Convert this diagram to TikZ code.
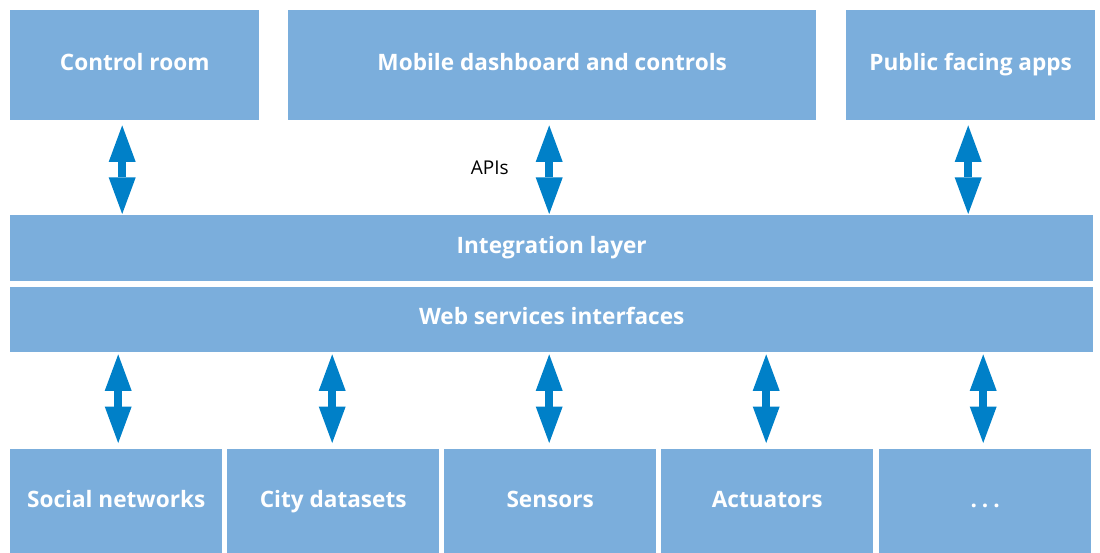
\documentclass[tikz,border=0pt]{standalone}
\usepackage{fontspec}
\setmainfont{Open Sans}
\usetikzlibrary{arrows.meta}
\definecolor{boxblue}{HTML}{7BAEDC}
\definecolor{arrowblue}{HTML}{0080C8}
\begin{document}
\begin{tikzpicture}[x=1pt,y=-1pt,
  blk/.style={fill=boxblue, draw=none, inner sep=0pt, anchor=north west,
    text=white, font=\fontsize{22.6}{27}\selectfont\bfseries, text depth=0pt},
  topblk/.style={blk, minimum height=110pt, text height=10pt},
  layer/.style={blk, minimum width=1083pt, text height=10.5pt},
  srcblk/.style={blk, minimum width=212pt, minimum height=104pt, text height=12pt},
  tipshape/.tip={Triangle[width=27pt,length=36.5pt,line width=0pt]},
  dbl/.style={draw=arrowblue, line width=8.5pt, tipshape-tipshape}
]
\useasboundingbox (0,0) rectangle (1100,553);

% client applications
\node[topblk, minimum width=249pt] (ctrl) at (10,10) {Control room};
\node[topblk, minimum width=528pt] (mobile) at (288,10) {Mobile dashboard and controls};
\node[topblk, minimum width=249pt] (public) at (846,10) {Public facing apps};

% middle layers
\node[layer, minimum height=66pt] (integ) at (10,215) {Integration layer};
\node[layer, minimum height=65pt] (web) at (10,287) {Web services interfaces};

% data sources
\node[srcblk] (social) at (10,449) {Social networks};
\node[srcblk] (city) at (227,449) {City datasets};
\node[srcblk] (sens) at (444,449) {Sensors};
\node[srcblk] (act) at (661,449) {Actuators};
\node[srcblk] (more) at (879,449) {.\hspace{5pt}.\hspace{5pt}.};

\node[anchor=base, inner sep=0pt, font=\fontsize{19}{23}\selectfont] (apis) at (489.7,175) {APIs};

% API links
\foreach \n/\dx in {ctrl/-12.5, mobile/-3, public/-2.5}
  \draw[dbl, shorten <=5pt, shorten >=1pt]
    ([xshift=\dx pt]\n.south) -- ([xshift=\dx pt]\n.south |- integ.north);

% data source links
\foreach \n/\dx in {social/2, city/-1, sens/-1, act/-1, more/-2}
  \draw[dbl, shorten <=2pt, shorten >=6pt]
    ([xshift=\dx pt]\n.north |- web.south) -- ([xshift=\dx pt]\n.north);
\end{tikzpicture}
\end{document}
